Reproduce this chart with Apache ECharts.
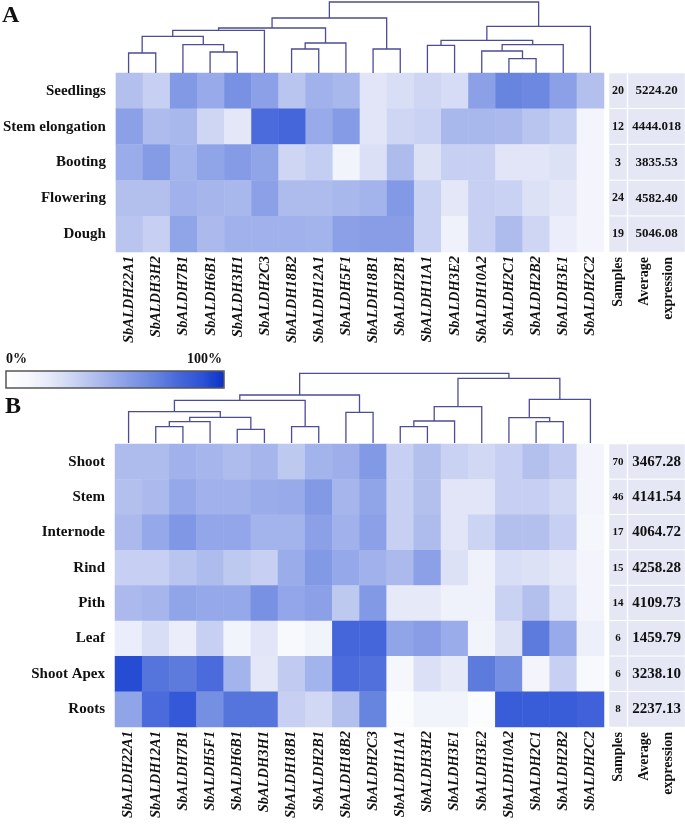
<!DOCTYPE html>
<html>
<head>
<meta charset="utf-8">
<script src="https://cdn.jsdelivr.net/npm/echarts@6/dist/echarts.min.js"></script>
<style>
html,body{margin:0;padding:0;background:#fff;}
#chart{width:685px;height:825px;}
</style>
</head>
<body>
<div id="chart"></div>
<script>
// ---------- Panel A data ----------
const genesA = ['SbALDH22A1','SbALDH3H2','SbALDH7B1','SbALDH6B1','SbALDH3H1','SbALDH2C3','SbALDH18B2','SbALDH12A1','SbALDH5F1','SbALDH18B1','SbALDH2B1','SbALDH11A1','SbALDH3E2','SbALDH10A2','SbALDH2C1','SbALDH2B2','SbALDH3E1','SbALDH2C2'];
const stagesA = ['Seedlings','Stem elongation','Booting','Flowering','Dough'];
const valuesA = [
  [40,33,58,50,62,55,38,47,44,22,26,30,27,55,68,66,55,40],
  [55,42,44,30,21,78,80,50,57,22,30,32,44,44,43,38,34,12],
  [49,57,46,53,57,53,30,34,13,25,42,24,33,33,22,22,24,12],
  [40,40,47,45,44,55,42,42,44,46,58,32,21,33,32,24,21,12],
  [38,33,53,43,47,47,47,46,55,56,56,32,15,33,42,30,17,12]
];
const samplesA = [20,12,3,24,19];
const avgExprA = ['5224.20','4444.018','3835.53','4582.40','5046.08'];
// merges: [childA, childB, distance]; leaves 0..17, new nodes from 18
const treeA = [
  [0,1,20],[3,4,21],[2,19,28.4],[18,20,36.7],[21,5,42.7],
  [6,7,24],[23,8,30],[22,24,45],[9,10,24],[25,26,55],
  [11,12,27.7],[14,15,14.4],[13,29,22],[30,16,28.4],[28,31,32.7],
  [32,17,46.7],[27,33,71]
];

// ---------- Panel B data ----------
const genesB = ['SbALDH22A1','SbALDH12A1','SbALDH7B1','SbALDH5F1','SbALDH6B1','SbALDH3H1','SbALDH18B1','SbALDH2B1','SbALDH18B2','SbALDH2C3','SbALDH11A1','SbALDH3H2','SbALDH3E1','SbALDH3E2','SbALDH10A2','SbALDH2C1','SbALDH2B2','SbALDH2C2'];
const tissuesB = ['Shoot','Stem','Internode','Rind','Pith','Leaf','Shoot Apex','Roots'];
const valuesB = [
  [42,42,47,45,42,45,36,46,48,58,33,40,32,29,33,40,35,12],
  [40,43,51,47,47,49,50,58,45,53,33,40,22,22,33,33,29,12],
  [43,51,59,52,52,46,46,55,47,55,33,42,22,31,40,40,33,11],
  [33,33,38,42,36,33,49,58,51,47,43,55,24,15,26,24,21,12],
  [43,45,53,51,51,62,52,55,36,58,20,20,15,15,32,40,26,12],
  [17,26,17,33,13,22,9,13,80,80,53,56,49,13,24,72,50,16],
  [92,74,72,78,46,21,35,46,78,76,11,25,20,72,63,12,33,9],
  [53,78,87,63,74,74,33,29,40,68,5,13,13,5,85,85,85,82]
];
const samplesB = [70,46,17,15,14,6,6,8];
const avgExprB = ['3467.28','4141.54','4064.72','4258.28','4109.73','1459.79','3238.10','2237.13'];
const treeB = [
  [1,2,16.3],[18,3,21.3],[4,5,13.7],[19,20,25.7],[0,21,31.3],
  [6,7,16.3],[22,23,42.7],[8,9,30.7],[24,25,48],
  [10,11,16.3],[27,12,22],[28,13,36.3],[15,16,21.3],[14,30,25.3],
  [31,17,43.7],[29,32,64.7],[26,33,69.7]
];

const colorRamp = ['#ffffff','#f7f8fd','#e6e9f8','#cfd6f4','#b3c0ee','#98aaea','#7d95e4','#6280de','#4565da','#2c52d6','#0a32c8'];
const FONT = 'Liberation Serif';
const LINE = '#4c4c98';
const TABLE_BG = '#e5e8f4';

function heatData(vals){
  const out=[];
  vals.forEach((row,r)=>row.forEach((v,c)=>out.push([c,r,v])));
  return out;
}
function dendroSegments(tree, nLeaves){
  const x=[], h=[];
  for(let i=0;i<nLeaves;i++){x.push(i+0.5);h.push(0);}
  const segs=[];
  tree.forEach(([a,b,d])=>{
    segs.push([x[a],h[a],x[b],h[b],d]);
    x.push((x[a]+x[b])/2); h.push(d);
  });
  return segs;
}
function renderDendro(params, api){
  const p1=api.coord([api.value(0),api.value(1)]);
  const p2=api.coord([api.value(0),api.value(4)]);
  const p3=api.coord([api.value(2),api.value(4)]);
  const p4=api.coord([api.value(2),api.value(3)]);
  return {type:'polyline',shape:{points:[p1,p2,p3,p4]},style:{stroke:LINE,lineWidth:1.3,fill:null}};
}

const hidden = {show:false};
function geneXAxis(grid, genes){
  return {type:'category',gridIndex:grid,data:genes,position:'bottom',
    axisLine:hidden,axisTick:hidden,splitLine:hidden,
    axisLabel:{rotate:90,interval:0,margin:4,fontFamily:FONT,fontStyle:'italic',fontWeight:'bold',fontSize:14.5,color:'#111'}};
}
function rowYAxis(grid, rows){
  return {type:'category',gridIndex:grid,data:rows,inverse:true,
    axisLine:hidden,axisTick:hidden,splitLine:hidden,
    axisLabel:{margin:10,fontFamily:FONT,fontWeight:'bold',fontSize:15,color:'#111'}};
}
function tableXAxis(grid, name){
  return {type:'category',gridIndex:grid,data:[name],position:'bottom',
    axisLine:hidden,axisTick:hidden,splitLine:hidden,
    axisLabel:{rotate:90,interval:0,margin:5,fontFamily:FONT,fontWeight:'bold',fontSize:14,lineHeight:24,color:'#111'}};
}
function tableYAxis(grid, rows){
  return {type:'category',gridIndex:grid,data:rows,inverse:true,show:false};
}
function tableSeries(xi, yi, texts, fs){
  return {type:'heatmap',xAxisIndex:xi,yAxisIndex:yi,
    data:texts.map((t,i)=>[0,i,1]),
    itemStyle:{color:TABLE_BG,borderColor:'#ffffff',borderWidth:1},
    label:{show:true,formatter:p=>String(texts[p.data[1]]),fontFamily:FONT,fontWeight:'bold',fontSize:fs,color:'#111'},
    emphasis:{disabled:true}};
}
function dendroAxes(grid, max){
  return [
    {type:'value',gridIndex:grid,min:0,max:18,show:false},
    {type:'value',gridIndex:grid,min:0,max:max,show:false}
  ];
}

const dA = dendroAxes(0,72), dB = dendroAxes(4,72);
const option = {
  backgroundColor:'#ffffff',
  animation:false,
  grid:[
    {left:115,top:1,width:489,height:72},
    {left:115,top:73,width:489,height:179},
    {left:609,top:73,width:18,height:179},
    {left:628,top:73,width:57,height:179},
    {left:115,top:371,width:489,height:72},
    {left:115,top:444,width:489,height:283},
    {left:609,top:444,width:18,height:283},
    {left:628,top:444,width:57,height:283}
  ],
  xAxis:[
    dA[0], geneXAxis(1,genesA), tableXAxis(2,'Samples'), tableXAxis(3,'Average\nexpression'),
    dB[0], geneXAxis(5,genesB), tableXAxis(6,'Samples'), tableXAxis(7,'Average\nexpression')
  ],
  yAxis:[
    dA[1], rowYAxis(1,stagesA), tableYAxis(2,stagesA), tableYAxis(3,stagesA),
    dB[1], rowYAxis(5,tissuesB), tableYAxis(6,tissuesB), tableYAxis(7,tissuesB)
  ],
  visualMap:{
    type:'continuous',min:0,max:100,seriesIndex:[0,1],orient:'horizontal',
    left:6,top:371,itemWidth:17,itemHeight:218,padding:0,calculable:false,
    hoverLink:false,inRange:{color:colorRamp}
  },
  series:[
    {type:'heatmap',xAxisIndex:1,yAxisIndex:1,data:heatData(valuesA),itemStyle:{borderWidth:0},emphasis:{disabled:true}},
    {type:'heatmap',xAxisIndex:5,yAxisIndex:5,data:heatData(valuesB),itemStyle:{borderWidth:0},emphasis:{disabled:true}},
    {type:'custom',xAxisIndex:0,yAxisIndex:0,data:dendroSegments(treeA,genesA.length),renderItem:renderDendro,clip:false,encode:{x:[0,2],y:[1,4]}},
    {type:'custom',xAxisIndex:4,yAxisIndex:4,data:dendroSegments(treeB,genesB.length),renderItem:renderDendro,clip:false,encode:{x:[0,2],y:[1,4]}},
    tableSeries(2,2,samplesA,12),
    tableSeries(3,3,avgExprA,13),
    tableSeries(6,6,samplesB,11),
    tableSeries(7,7,avgExprB,15)
  ],
  graphic:[
    {type:'text',left:2,top:4,style:{text:'A',font:'bold 24px "Liberation Serif"',fill:'#111'}},
    {type:'text',left:5,top:395,style:{text:'B',font:'bold 24px "Liberation Serif"',fill:'#111'}},
    {type:'text',left:6,top:352,style:{text:'0%',font:'bold 14px "Liberation Serif"',fill:'#111'}},
    {type:'text',left:187,top:352,style:{text:'100%',font:'bold 14px "Liberation Serif"',fill:'#111'}},
    {type:'rect',shape:{x:6,y:371,width:218,height:17},style:{fill:null,stroke:'#555',lineWidth:1.5},z:100}
  ]
};
const chart = echarts.init(document.getElementById('chart'),null,{renderer:'canvas'});
chart.setOption(option);
</script>
</body>
</html>
